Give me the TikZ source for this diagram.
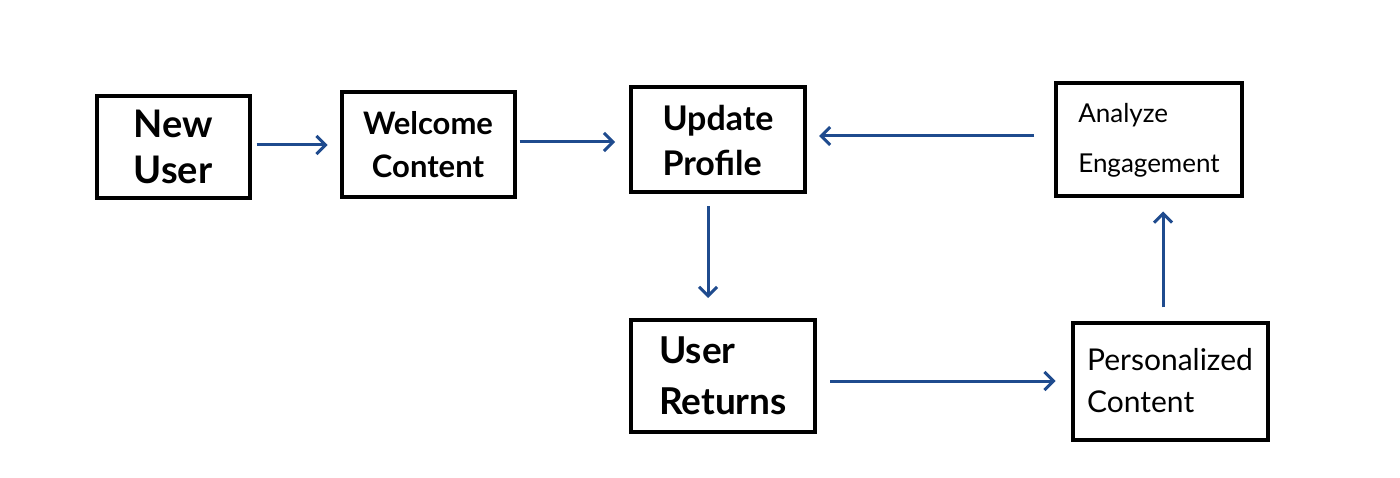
\documentclass[tikz,border=0pt]{standalone}
\usepackage{fontspec}
\setmainfont{Lato}
\usetikzlibrary{arrows.meta}
\definecolor{arrowblue}{HTML}{1F4B8E}
\begin{document}
\begin{tikzpicture}[x=1pt,y=-1pt,
  box/.style={draw=black,line width=4pt,rectangle,inner sep=0pt,text=black},
  arr/.style={draw=arrowblue,line width=3pt,
    -{Straight Barb[length=9pt,width=18pt,line width=3pt]}}]
\useasboundingbox (0,0) rectangle (1400,478);
\node[box,minimum width=153pt,minimum height=102pt,align=center,font=\fontsize{38}{46}\bfseries] (nu) at (173,147) {New\\User};
\node[box,minimum width=173pt,minimum height=105pt,align=center,font=\fontsize{31}{43}\bfseries] (wc) at (428,145) {Welcome\\Content};
\node[box,minimum width=174pt,minimum height=105pt,align=left,font=\fontsize{34}{45}\bfseries] (up) at (718,140) {Update\\Profile};
\node[box,minimum width=186pt,minimum height=113pt,align=left,font=\fontsize{26}{50}\selectfont] (ae) at (1149,140) {Analyze\\Engagement};
\node[box,minimum width=184pt,minimum height=112pt,align=left,font=\fontsize{37}{51}\bfseries] (ur) at (723,376) {User\\Returns};
\node[box,minimum width=195pt,minimum height=117pt,align=left,font=\fontsize{30}{42}\selectfont] (pc) at (1170,381) {Personalized\\Content};
\draw[arr,shorten <=5pt,shorten >=12pt] (nu.east |- 0,145) -- (wc.west |- 0,145);
\draw[arr,shorten <=3pt,shorten >=14pt] (wc.east |- 0,142) -- (up.west |- 0,142);
\draw[arr,shorten <=20pt,shorten >=12pt] (ae.west |- 0,136) -- (up.east |- 0,136);
\draw[arr,shorten <=12pt,shorten >=20pt] (up.south -| 708,0) -- (ur.north -| 708,0);
\draw[arr,shorten <=13pt,shorten >=15pt] (ur.east |- 0,381) -- (pc.west |- 0,381);
\draw[arr,shorten <=13pt,shorten >=13pt] (pc.north -| 1163,0) -- (ae.south -| 1163,0);
\end{tikzpicture}
\end{document}
